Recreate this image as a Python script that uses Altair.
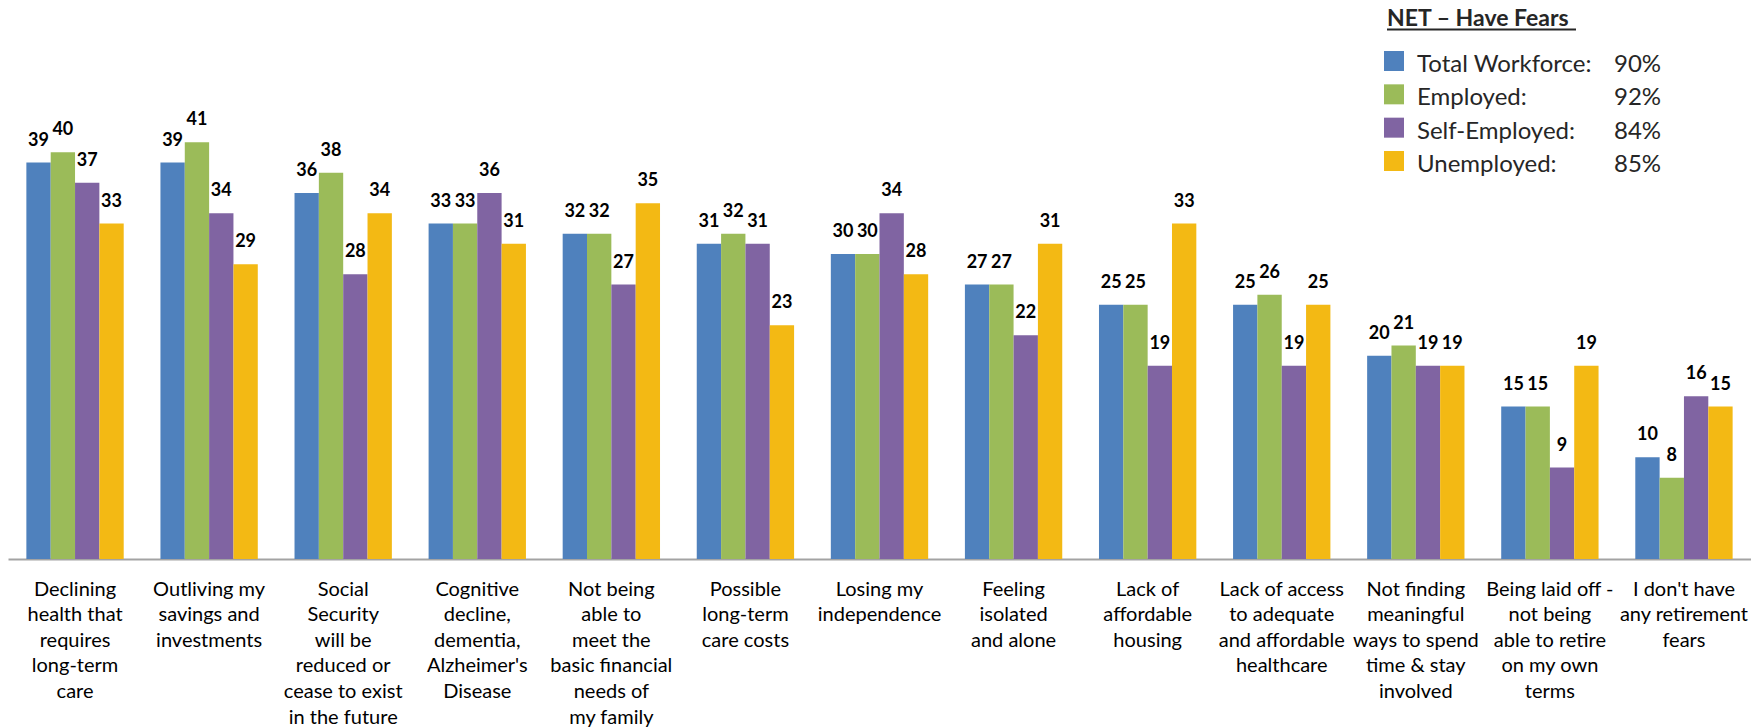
import altair as alt
import pandas as pd

categories = [
    "Declining|health that|requires|long-term|care",
    "Outliving my|savings and|investments",
    "Social|Security|will be|reduced or|cease to exist|in the future",
    "Cognitive|decline,|dementia,|Alzheimer's|Disease",
    "Not being|able to|meet the|basic financial|needs of|my family",
    "Possible|long-term|care costs",
    "Losing my|independence",
    "Feeling|isolated|and alone",
    "Lack of|affordable|housing",
    "Lack of access|to adequate|and affordable|healthcare",
    "Not finding|meaningful|ways to spend|time & stay|involved",
    "Being laid off -|not being|able to retire|on my own|terms",
    "I don't have|any retirement|fears",
]

series = ["Total Workforce:", "Employed:", "Self-Employed:", "Unemployed:"]
net_have_fears = ["90%", "92%", "84%", "85%"]
colors = ["#4F81BD", "#9BBB59", "#8064A2", "#F3B914"]

total_workforce = [39, 39, 36, 33, 32, 31, 30, 27, 25, 25, 20, 15, 10]
employed = [40, 41, 38, 33, 32, 32, 30, 27, 25, 26, 21, 15, 8]
self_employed = [37, 34, 28, 36, 27, 31, 34, 22, 19, 19, 19, 9, 16]
unemployed = [33, 29, 34, 31, 35, 23, 28, 31, 33, 25, 19, 19, 15]

values_by_series = [total_workforce, employed, self_employed, unemployed]
rows = []
for s, vals in zip(series, values_by_series):
    for c, v in zip(categories, vals):
        rows.append({"category": c, "series": s, "value": v})
df = pd.DataFrame(rows)
legend_df = pd.DataFrame({"series": series, "net": net_have_fears})

FONT = "Lato"
color_scale = alt.Scale(domain=series, range=colors)

x_enc = alt.X(
    "category:N",
    sort=categories,
    scale=alt.Scale(paddingInner=0.274, paddingOuter=0.137),
    axis=alt.Axis(
        title=None,
        ticks=False,
        tickSize=0,
        labelAngle=0,
        labelFont=FONT,
        labelFontSize=20,
        labelColor="#000000",
        labelLineHeight=25.6,
        labelPadding=20,
        labelLimit=0,
        labelExpr="split(datum.label, '|')",
        domainColor="#A3A3A3",
        domainWidth=2,
        grid=False,
    ),
)
xoff_enc = alt.XOffset("series:N", sort=series, scale=alt.Scale(paddingInner=0, paddingOuter=0))
y_enc = alt.Y("value:Q", scale=alt.Scale(domain=[0, 54.2], nice=False, zero=True), axis=None)

base = alt.Chart(df)
bars = base.mark_bar().encode(
    x=x_enc,
    xOffset=xoff_enc,
    y=y_enc,
    color=alt.Color("series:N", scale=color_scale, legend=None),
)
labels = base.mark_text(
    dy=-17, baseline="alphabetic", align="center", font=FONT, fontSize=18,
    fontWeight="bold", color="#000000",
).encode(
    x=alt.X("category:N", sort=categories),
    xOffset=alt.XOffset("series:N", sort=series),
    y=y_enc,
    text=alt.Text("value:Q"),
)
main = alt.layer(bars, labels)

leg_y = alt.Y("series:N", sort=series, scale=alt.Scale(domain=series, range=[53, 153], padding=0), axis=None)
leg_base = alt.Chart(legend_df)
leg_squares = leg_base.mark_square(size=400, opacity=1).encode(
    x=alt.value(1386),
    y=leg_y,
    color=alt.Color("series:N", scale=color_scale, legend=None),
)
leg_names = leg_base.mark_text(
    align="left", baseline="alphabetic", dy=11, font=FONT, fontSize=24, color="#262626"
).encode(x=alt.value(1409), y=leg_y, text="series:N")
leg_pcts = leg_base.mark_text(
    align="left", baseline="alphabetic", dy=11, font=FONT, fontSize=24, color="#262626"
).encode(x=alt.value(1606), y=leg_y, text="net:N")
legend_layer = alt.layer(leg_squares, leg_names, leg_pcts)

title_df = pd.DataFrame({"t": ["NET \u2013 Have Fears"]})
leg_title = alt.Chart(title_df).mark_text(
    align="left", baseline="alphabetic", font=FONT, fontSize=23, fontWeight="bold", color="#262626"
).encode(x=alt.value(1379), y=alt.value(18), text="t:N")
leg_underline = alt.Chart(title_df).mark_rule(color="#262626", strokeWidth=2).encode(
    x=alt.value(1379), x2=alt.value(1568), y=alt.value(21.5)
)

chart = (
    alt.layer(main, legend_layer, leg_title, leg_underline)
    .resolve_scale(y="independent")
    .properties(
        width=1743, height=551, background="white",
        padding={"left": 0, "top": 0, "right": 0, "bottom": 0},
    )
    .configure_view(strokeWidth=0, stroke=None)
)

chart.save("out.html", embed_options={"renderer": "svg", "actions": False})
